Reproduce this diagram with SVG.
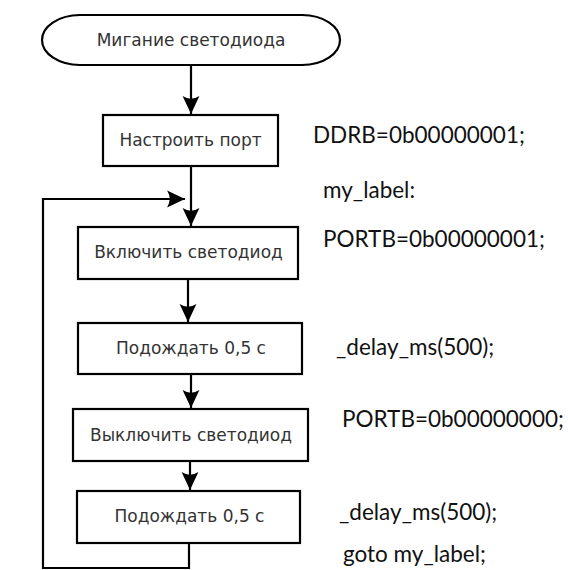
<svg xmlns="http://www.w3.org/2000/svg" width="568" height="570" viewBox="0 0 568 570">
  <defs>
    <style>
      .shape { fill: #ffffff; stroke: #000000; stroke-width: 2.2; }
      .lbl { font-family: "DejaVu Sans", sans-serif; font-size: 17px; fill: #333333; text-anchor: middle; }
      .code { font-family: Lato, "Liberation Sans", sans-serif; font-size: 22.5px; fill: #111111; }
      .wire { fill: none; stroke: #000000; stroke-width: 2.2; }
    </style>
    <marker id="arrow" markerUnits="userSpaceOnUse" markerWidth="20" markerHeight="20" viewBox="-18 -9 19 18" refX="0" refY="0" orient="auto">
      <path d="M0,0 L-17,-8 Q-12,0 -17,8 Z" fill="#000000"/>
    </marker>
  </defs>
  <rect width="568" height="570" fill="#ffffff"/>

  <!-- connectors -->
  <g id="connectors">
    <path class="wire" d="M191,65 V114" marker-end="url(#arrow)"/>
    <path class="wire" d="M191,166 V226" marker-end="url(#arrow)"/>
    <path class="wire" d="M188,279 V322" marker-end="url(#arrow)"/>
    <path class="wire" d="M191,374 V408" marker-end="url(#arrow)"/>
    <path class="wire" d="M190,461 V490" marker-end="url(#arrow)"/>
    <path class="wire" d="M189,543 V568 H43 V199 H185" marker-end="url(#arrow)"/>
  </g>

  <!-- flowchart nodes -->
  <g id="start">
    <path class="shape" d="M80,15 H302 A38,25 0 0 1 302,65 H80 A38,25 0 0 1 80,15 Z"/>
    <text class="lbl" x="191" y="46">Мигание светодиода</text>
  </g>
  <g id="setup-port">
    <rect class="shape" x="103" y="115" width="175" height="51"/>
    <text class="lbl" x="190.5" y="146">Настроить порт</text>
  </g>
  <g id="led-on">
    <rect class="shape" x="78" y="227" width="220" height="52"/>
    <text class="lbl" x="188.5" y="258">Включить светодиод</text>
  </g>
  <g id="wait-1">
    <rect class="shape" x="78" y="323" width="224" height="51"/>
    <text class="lbl" x="191" y="354">Подождать 0,5 с</text>
  </g>
  <g id="led-off">
    <rect class="shape" x="73" y="409" width="235" height="52"/>
    <text class="lbl" x="191" y="441">Выключить светодиод</text>
  </g>
  <g id="wait-2">
    <rect class="shape" x="77" y="491" width="223" height="52"/>
    <text class="lbl" x="189.5" y="522">Подождать 0,5 с</text>
  </g>

  <!-- C code alongside each step -->
  <g id="code">
    <text class="code" x="313" y="143">DDRB=0b00000001;</text>
    <text class="code" x="323" y="198">my_label:</text>
    <text class="code" x="323" y="247">PORTB=0b00000001;</text>
    <text class="code" x="336" y="355">_delay_ms(500);</text>
    <text class="code" x="342" y="427">PORTB=0b00000000;</text>
    <text class="code" x="339" y="520">_delay_ms(500);</text>
    <text class="code" x="343" y="562">goto my_label;</text>
  </g>
</svg>
